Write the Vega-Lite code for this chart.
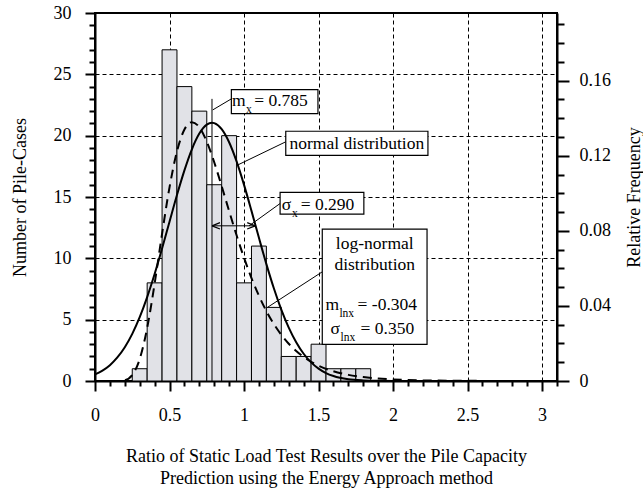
{
  "$schema": "https://vega.github.io/schema/vega-lite/v6.json",
  "width": 462,
  "height": 368,
  "autosize": {"type": "none"},
  "padding": {"left": 95, "top": 13, "right": 86, "bottom": 111},
  "background": "white",
  "config": {
    "view": {"stroke": "black", "strokeWidth": 2},
    "font": "Liberation Serif",
    "axis": {
      "labelFont": "Liberation Serif", "labelFontSize": 18, "labelColor": "black",
      "titleFont": "Liberation Serif", "titleFontSize": 18, "titleFontWeight": "normal", "titleColor": "black",
      "domainColor": "black", "domainWidth": 2, "tickColor": "black", "tickWidth": 2,
      "labelOverlap": false, "labelFlush": false, "labelBound": false
    }
  },
  "datasets": {
    "bars": [
      {"lo": 0.25, "hi": 0.35, "count": 1},
      {"lo": 0.35, "hi": 0.45, "count": 8},
      {"lo": 0.45, "hi": 0.55, "count": 27},
      {"lo": 0.55, "hi": 0.65, "count": 24},
      {"lo": 0.65, "hi": 0.75, "count": 22},
      {"lo": 0.75, "hi": 0.85, "count": 16},
      {"lo": 0.85, "hi": 0.95, "count": 20},
      {"lo": 0.95, "hi": 1.05, "count": 8},
      {"lo": 1.05, "hi": 1.15, "count": 11},
      {"lo": 1.15, "hi": 1.25, "count": 6},
      {"lo": 1.25, "hi": 1.35, "count": 2},
      {"lo": 1.35, "hi": 1.45, "count": 2},
      {"lo": 1.45, "hi": 1.55, "count": 3},
      {"lo": 1.55, "hi": 1.65, "count": 1},
      {"lo": 1.65, "hi": 1.75, "count": 1},
      {"lo": 1.75, "hi": 1.85, "count": 1}
    ],
    "normal": [
      {"lo": 0, "count": 0.54}, {"lo": 0.05, "count": 0.85}, {"lo": 0.1, "count": 1.29}, {"lo": 0.15, "count": 1.92},
      {"lo": 0.2, "count": 2.75}, {"lo": 0.25, "count": 3.84}, {"lo": 0.3, "count": 5.2}, {"lo": 0.35, "count": 6.84},
      {"lo": 0.4, "count": 8.72}, {"lo": 0.45, "count": 10.8}, {"lo": 0.5, "count": 12.99}, {"lo": 0.55, "count": 15.16},
      {"lo": 0.6, "count": 17.17}, {"lo": 0.65, "count": 18.89}, {"lo": 0.7, "count": 20.17}, {"lo": 0.75, "count": 20.9},
      {"lo": 0.785, "count": 21.05}, {"lo": 0.8, "count": 21.02}, {"lo": 0.85, "count": 20.53}, {"lo": 0.9, "count": 19.46},
      {"lo": 0.95, "count": 17.9}, {"lo": 1.0, "count": 15.99}, {"lo": 1.05, "count": 13.87}, {"lo": 1.1, "count": 11.67},
      {"lo": 1.15, "count": 9.53}, {"lo": 1.2, "count": 7.56}, {"lo": 1.25, "count": 5.82}, {"lo": 1.3, "count": 4.35},
      {"lo": 1.35, "count": 3.16}, {"lo": 1.4, "count": 2.22}, {"lo": 1.45, "count": 1.52}, {"lo": 1.5, "count": 1.01},
      {"lo": 1.55, "count": 0.65}, {"lo": 1.6, "count": 0.41}, {"lo": 1.7, "count": 0.145}, {"lo": 1.8, "count": 0.046},
      {"lo": 1.9, "count": 0.013}, {"lo": 2.0, "count": 0.003}, {"lo": 2.2, "count": 0}, {"lo": 3.1, "count": 0}
    ],
    "lognormal": [
      {"lo": 0, "count": 0}, {"lo": 0.15, "count": 0}, {"lo": 0.2, "count": 0.07}, {"lo": 0.25, "count": 0.49},
      {"lo": 0.3, "count": 1.79}, {"lo": 0.35, "count": 4.32}, {"lo": 0.4, "count": 7.93}, {"lo": 0.45, "count": 12.0},
      {"lo": 0.5, "count": 15.79}, {"lo": 0.55, "count": 18.72}, {"lo": 0.6, "count": 20.5}, {"lo": 0.65, "count": 21.1},
      {"lo": 0.7, "count": 20.69}, {"lo": 0.75, "count": 19.51}, {"lo": 0.8, "count": 17.83}, {"lo": 0.85, "count": 15.88},
      {"lo": 0.9, "count": 13.85}, {"lo": 0.95, "count": 11.88}, {"lo": 1.0, "count": 10.05}, {"lo": 1.05, "count": 8.39},
      {"lo": 1.1, "count": 6.95}, {"lo": 1.15, "count": 5.7}, {"lo": 1.2, "count": 4.65}, {"lo": 1.25, "count": 3.77},
      {"lo": 1.3, "count": 3.04}, {"lo": 1.35, "count": 2.45}, {"lo": 1.4, "count": 1.96}, {"lo": 1.45, "count": 1.57},
      {"lo": 1.5, "count": 1.25}, {"lo": 1.6, "count": 0.79}, {"lo": 1.7, "count": 0.5}, {"lo": 1.8, "count": 0.32},
      {"lo": 1.9, "count": 0.2}, {"lo": 2.0, "count": 0.13}, {"lo": 2.2, "count": 0.05}, {"lo": 2.4, "count": 0.02},
      {"lo": 2.6, "count": 0.01}, {"lo": 2.8, "count": 0.004}, {"lo": 3.0, "count": 0.002}, {"lo": 3.1, "count": 0.001}
    ],
    "rules": [
      {"lo": 0.785, "count": 0, "lo2": 0.785, "count2": 23.0},
      {"lo": 0.79, "count": 22.1, "lo2": 0.915, "count2": 23.0},
      {"lo": 0.956, "count": 17.6, "lo2": 1.28, "count2": 19.5},
      {"lo": 1.034, "count": 12.65, "lo2": 1.242, "count2": 14.47},
      {"lo": 1.157, "count": 6.0, "lo2": 1.525, "count2": 8.9},
      {"lo": 0.785, "count": 12.65, "lo2": 1.075, "count2": 12.65}
    ],
    "heads": [
      {"lo": 0.785, "count": 12.65, "dir": "left"},
      {"lo": 1.075, "count": 12.65, "dir": "right"}
    ],
    "boxes": [
      {"lo": 0.915, "lo2": 1.496, "count": 21.8, "count2": 23.75},
      {"lo": 1.28, "lo2": 2.234, "count": 18.4, "count2": 20.36},
      {"lo": 1.242, "lo2": 1.804, "count": 13.6, "count2": 15.37},
      {"lo": 1.525, "lo2": 2.228, "count": 2.99, "count2": 12.38}
    ],
    "centered": [
      {"lo": 1.757, "count": 18.95, "t": "normal distribution"},
      {"lo": 1.877, "count": 10.8, "t": "log-normal"},
      {"lo": 1.877, "count": 9.04, "t": "distribution"}
    ],
    "lefttext": [
      {"lo": 0.92, "count": 22.42, "t": "m"},
      {"lo": 1.068, "count": 22.42, "t": "= 0.785"},
      {"lo": 1.253, "count": 13.93, "t": "σ"},
      {"lo": 1.38, "count": 13.93, "t": "= 0.290"},
      {"lo": 1.547, "count": 5.78, "t": "m"},
      {"lo": 1.762, "count": 5.78, "t": "= -0.304"},
      {"lo": 1.581, "count": 3.83, "t": "σ"},
      {"lo": 1.782, "count": 3.83, "t": "= 0.350"}
    ],
    "subs": [
      {"lo": 1.014, "count": 21.88, "t": "x"},
      {"lo": 1.322, "count": 13.38, "t": "x"},
      {"lo": 1.64, "count": 5.25, "t": "lnx"},
      {"lo": 1.648, "count": 3.3, "t": "lnx"}
    ],
    "rf": [{"rf": 0}, {"rf": 0.19}]
  },
  "layer": [
    {
      "encoding": {
        "x": {
          "field": "lo", "type": "quantitative",
          "scale": {"domain": [0, 3.1], "nice": false, "zero": false},
          "axis": {
            "title": ["Ratio of Static Load Test Results over the Pile Capacity", "Prediction using the Energy Approach method"],
            "titleLineHeight": 22,
            "titlePadding": 23,
            "values": [0,0.1,0.2,0.3,0.4,0.5,0.6,0.7,0.8,0.9,1,1.1,1.2,1.3,1.4,1.5,1.6,1.7,1.8,1.9,2,2.1,2.2,2.3,2.4,2.5,2.6,2.7,2.8,2.9,3,3.1],
            "labelExpr": "abs(datum.value*2-round(datum.value*2))<1e-6 ? format(datum.value,'~g') : ''",
            "tickSize": {"condition": {"test": "abs(datum.value*2-round(datum.value*2))<1e-6", "value": 10}, "value": 5},
            "labelPadding": 15,
            "grid": true,
            "gridColor": "black",
            "gridWidth": 1,
            "gridDash": [4, 3],
            "gridOpacity": {"condition": {"test": "datum.value>0.01 && abs(datum.value*2-round(datum.value*2))<1e-6", "value": 1}, "value": 0}
          }
        },
        "y": {
          "field": "count", "type": "quantitative",
          "scale": {"domain": [0, 30], "nice": false},
          "axis": {
            "title": "Number of Pile-Cases",
            "titlePadding": 24,
            "values": [0,1,2,3,4,5,6,7,8,9,10,11,12,13,14,15,16,17,18,19,20,21,22,23,24,25,26,27,28,29,30],
            "labelExpr": "datum.value % 5 === 0 ? format(datum.value,'d') : ''",
            "tickSize": {"condition": {"test": "datum.value % 5 === 0", "value": 10}, "value": 6},
            "labelPadding": 14,
            "grid": true,
            "gridColor": "black",
            "gridWidth": 1,
            "gridDash": [4, 3],
            "gridOpacity": {"condition": {"test": "datum.value % 5 === 0 && datum.value > 0 && datum.value < 30", "value": 1}, "value": 0}
          }
        }
      },
      "layer": [
        {
          "data": {"name": "bars"},
          "mark": {"type": "bar", "fill": "#e1e2e7", "stroke": "black", "strokeWidth": 1},
          "encoding": {
            "x2": {"field": "hi"},
            "y2": {"datum": 0}
          }
        },
        {
          "data": {"name": "normal"},
          "mark": {"type": "line", "stroke": "black", "strokeWidth": 2, "interpolate": "monotone"},
          "encoding": {}
        },
        {
          "data": {"name": "lognormal"},
          "mark": {"type": "line", "stroke": "black", "strokeWidth": 2, "strokeDash": [9, 6], "interpolate": "monotone"},
          "encoding": {}
        },
        {
          "data": {"name": "rules"},
          "mark": {"type": "rule", "stroke": "black", "strokeWidth": 1},
          "encoding": {
            "x2": {"field": "lo2"},
            "y2": {"field": "count2"}
          }
        },
        {
          "data": {"name": "heads"},
          "mark": {"type": "point", "filled": false, "stroke": "black", "strokeWidth": 1.2, "size": 256, "opacity": 1},
          "encoding": {
            "shape": {"field": "dir", "type": "nominal", "legend": null,
              "scale": {"domain": ["left", "right"], "range": ["M 0 0 L 1 -0.4 M 0 0 L 1 0.4", "M 0 0 L -1 -0.4 M 0 0 L -1 0.4"]}}
          }
        },
        {
          "data": {"name": "boxes"},
          "mark": {"type": "rect", "fill": "white", "stroke": "black", "strokeWidth": 1.2},
          "encoding": {
            "x2": {"field": "lo2"},
            "y2": {"field": "count2"}
          }
        },
        {
          "data": {"name": "centered"},
          "mark": {"type": "text", "align": "center", "baseline": "alphabetic", "font": "Liberation Serif", "fontSize": 17.5, "color": "black"},
          "encoding": {
            "text": {"field": "t"}
          }
        },
        {
          "data": {"name": "lefttext"},
          "mark": {"type": "text", "align": "left", "baseline": "alphabetic", "font": "Liberation Serif", "fontSize": 17.5, "color": "black"},
          "encoding": {
            "text": {"field": "t"}
          }
        },
        {
          "data": {"name": "subs"},
          "mark": {"type": "text", "align": "left", "baseline": "alphabetic", "font": "Liberation Serif", "fontSize": 11.5, "color": "black"},
          "encoding": {
            "text": {"field": "t"}
          }
        }
      ]
    },
    {
      "data": {"name": "rf"},
      "mark": {"type": "rule", "strokeOpacity": 0},
      "encoding": {
        "y": {
          "field": "rf", "type": "quantitative",
          "scale": {"domain": [0, 0.19608], "nice": false},
          "axis": {
            "orient": "right",
            "title": "Relative Frequency",
            "titleAngle": 270,
            "titlePadding": 33,
            "values": [0,0.01,0.02,0.03,0.04,0.05,0.06,0.07,0.08,0.09,0.1,0.11,0.12,0.13,0.14,0.15,0.16,0.17,0.18,0.19],
            "labelExpr": "abs(datum.value*25-round(datum.value*25))<1e-6 ? format(datum.value,'~g') : ''",
            "tickSize": {"condition": {"test": "abs(datum.value*25-round(datum.value*25))<1e-6", "value": 12}, "value": 7},
            "labelPadding": 10,
            "grid": false
          }
        }
      }
    }
  ],
  "resolve": {"scale": {"y": "independent"}, "axis": {"y": "independent"}}
}
